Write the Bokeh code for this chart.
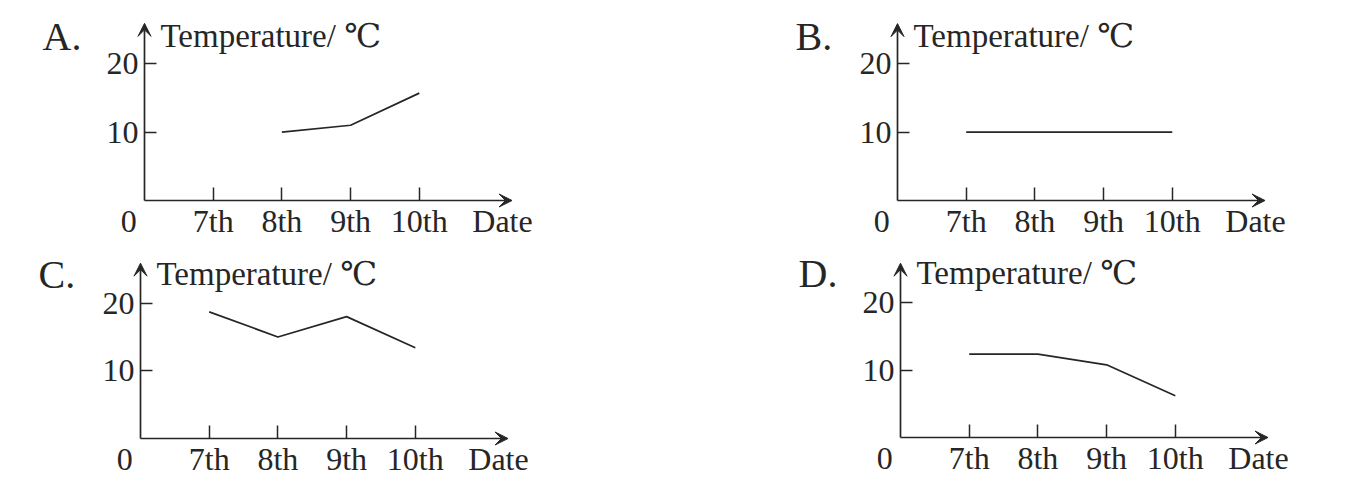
from bokeh.plotting import figure
from bokeh.layouts import column, row
from bokeh.models import FixedTicker, Arrow, VeeHead, Label, Range1d, LinearAxis
from bokeh.embed import file_html
from bokeh.resources import INLINE

# ---- data ----
dates = ["7th", "8th", "9th", "10th"]
y_ticks = [10, 20]
temps_A = [float("nan"), 10, 11, 15.7]
temps_B = [10, 10, 10, 10]
temps_C = [18.7, 15, 18, 13.4]
temps_D = [12.4, 12.4, 10.8, 6.2]
option_labels = ["A.", "B.", "C.", "D."]
y_title = "Temperature/ \u2103"
x_title = "Date"
origin_label = "0"

# ---- style ----
FONT = "Liberation Serif, DejaVu Serif"
INK = "#262626"
FS = "32px"
X_TIP = 5.35
Y_TIP = 25.9
XS = 68.7  # px per day


def style_axis(ax):
    ax.axis_line_color = None
    ax.major_tick_line_color = INK
    ax.major_tick_line_width = 1.5
    ax.major_tick_out = 0
    ax.minor_tick_in = 0
    ax.minor_tick_out = 0
    ax.major_label_text_font = FONT
    ax.major_label_text_font_size = FS
    ax.major_label_text_color = INK


def make_panel(letter, temps, W, H, ox, oy, ys):
    xs = XS
    p = figure(width=W, height=H,
               min_border_left=0, min_border_right=0,
               min_border_top=0, min_border_bottom=0,
               x_range=Range1d(-ox / xs, (W - ox) / xs),
               y_range=Range1d(-(H - oy) / ys, oy / ys),
               output_backend="svg", toolbar_location=None, tools="")
    p.grid.visible = False
    p.outline_line_color = None
    p.background_fill_color = "white"
    p.border_fill_color = "white"

    xpos = list(range(1, len(dates) + 1))
    p.xaxis.ticker = FixedTicker(ticks=xpos, minor_ticks=[])
    p.xaxis.major_label_overrides = {x: d for x, d in zip(xpos, dates)}
    p.yaxis.ticker = FixedTicker(ticks=y_ticks, minor_ticks=[])
    p.xaxis.fixed_location = 0
    p.yaxis.fixed_location = 0
    for ax in p.axis:
        style_axis(ax)
    p.xaxis.major_tick_in = 13
    p.xaxis.major_label_standoff = 2
    p.yaxis.major_tick_in = 12
    p.yaxis.major_label_standoff = 6

    # "0" at the origin and "Date" after the last date, on the same baseline
    x_zero = -15.7 / xs
    x_date = 358 / xs
    extra = LinearAxis(ticker=FixedTicker(ticks=[x_zero, x_date], minor_ticks=[]),
                       major_label_overrides={x_zero: origin_label, x_date: x_title})
    style_axis(extra)
    extra.major_tick_in = 0
    extra.major_tick_line_color = None
    extra.major_label_standoff = 2
    extra.fixed_location = 0
    p.add_layout(extra, "below")

    # axes with arrow heads
    p.add_layout(Arrow(end=VeeHead(size=13, fill_color=INK, line_color=INK, line_width=1),
                       x_start=0, y_start=0, x_end=X_TIP, y_end=0,
                       line_color=INK, line_width=1.7))
    p.add_layout(Arrow(end=VeeHead(size=13, fill_color=INK, line_color=INK, line_width=1),
                       x_start=0, y_start=0, x_end=0, y_end=Y_TIP,
                       line_color=INK, line_width=1.7))

    # data line
    p.line(xpos, temps, line_color=INK, line_width=1.7)

    # titles
    p.add_layout(Label(x=16 / xs, y=165 / ys, text=y_title, text_align="left",
                       text_baseline="alphabetic", text_font=FONT, text_font_size="33px",
                       text_color=INK))
    p.add_layout(Label(x=-102 / xs, y=164 / ys, text=letter, text_align="left",
                       text_baseline="alphabetic", text_font=FONT, text_font_size="40px",
                       text_color=INK))
    return p


pA = make_panel(option_labels[0], temps_A, 761, 245, 144, 200, 6.84)
pB = make_panel(option_labels[1], temps_B, 586, 245, 136, 200, 6.83)
pC = make_panel(option_labels[2], temps_C, 764, 243, 140, 193, 6.77)
pD = make_panel(option_labels[3], temps_D, 583, 243, 136, 192, 6.73)

layout = column(row(pA, pB), row(pC, pD))
open("out.html", "w").write(file_html(layout, INLINE))
